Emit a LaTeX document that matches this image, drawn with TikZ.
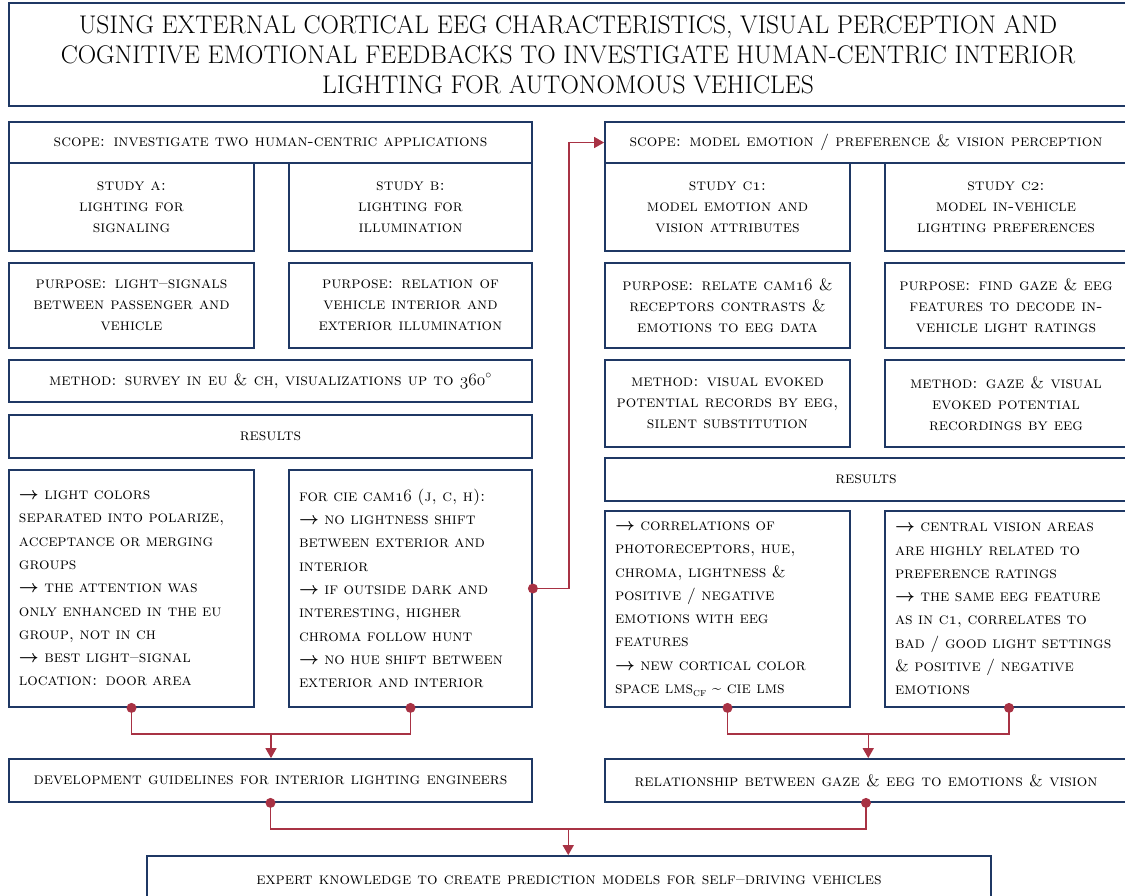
\documentclass[tikz,border=0pt]{standalone}
\usepackage{amsmath}
\usepackage{bm}
\usepackage{xcolor}
\usepackage{tikz}
\usetikzlibrary{
	arrows.meta,
	calc,
	positioning
}

\definecolor{boxblue}{RGB}{31,56,100}
\definecolor{linkred}{RGB}{168,50,68}
\newcommand{\resarrow}{$\bm{\rightarrow}$}
\newcommand{\osn}[1]{$\oldstylenums{#1}$}

\tikzset{
	box/.style={draw=boxblue, line width=1.8pt, fill=white, inner sep=0pt,
		align=center, font=\scshape\fontsize{16.5}{21}\selectfont},
	outbox/.style={box, align=left, inner xsep=10pt,
		font=\scshape\fontsize{16.5}{23.3}\selectfont},
	link/.style={draw=linkred, line width=1.5pt},
	tip/.style={-{Triangle[length=10pt,width=11pt]}}
}

\begin{document}
\begin{tikzpicture}[x=1pt, y=-1pt]
		\useasboundingbox (0,0) rectangle (1125,895);
		% title
		\node[box, minimum width=1118pt, minimum height=103pt,
			font=\fontsize{25.5}{30}\selectfont] (title) at (568,54.5)
			{USING EXTERNAL CORTICAL EEG CHARACTERISTICS, VISUAL PERCEPTION AND\\
			COGNITIVE EMOTIONAL FEEDBACKS TO INVESTIGATE HUMAN-CENTRIC INTERIOR\\
			LIGHTING FOR AUTONOMOUS VEHICLES};
		% left column: studies A and B
		\node[box, minimum width=523pt, minimum height=41pt] (scopeL) at (270.5,142.5)
			{scope: investigate two human-centric applications};
		\node[box, minimum width=245pt, minimum height=88pt] (studyA) at (131.5,207)
			{study a:\\ lighting for\\ signaling};
		\node[box, minimum width=243pt, minimum height=88pt] (studyB) at (410.5,207)
			{study b:\\ lighting for\\ illumination};
		\node[box, minimum width=245pt, minimum height=85pt] (purpA) at (131.5,305.5)
			{purpose: light--signals\\ between passenger and\\ vehicle};
		\node[box, minimum width=243pt, minimum height=85pt] (purpB) at (410.5,305.5)
			{purpose: relation of\\ vehicle interior and\\ exterior illumination};
		\node[box, minimum width=523pt, minimum height=42pt] (methL) at (270.5,381)
			{method: survey in eu \& ch, visualizations up to \osn{360}$^\circ$};
		\node[box, minimum width=523pt, minimum height=43pt] (resL) at (270.5,436.5)
			{results};
		\node[outbox, text width=225pt, minimum height=237pt] (outA) at (131.5,588.5)
			{\resarrow{} light colors\\ separated into polarize,\\ acceptance or merging\\ groups\\
			\resarrow{} the attention was\\ only enhanced in the eu\\ group, not in ch\\
			\resarrow{} best light--signal\\ location: door area};
		\node[outbox, text width=223pt, minimum height=237pt] (outB) at (410.5,588.5)
			{for cie cam\osn{16} (j, c, h):\\ \resarrow{} no lightness shift\\
			between exterior and\\ interior\\ \resarrow{} if outside dark and\\
			interesting, higher\\ chroma follow hunt\\ \resarrow{} no hue shift between\\
			exterior and interior};
		\node[box, minimum width=523pt, minimum height=43pt] (devel) at (270.5,780.5)
			{development guidelines for interior lighting engineers};
		% right column: studies C1 and C2
		\node[box, minimum width=522pt, minimum height=41pt] (scopeR) at (866,142.5)
			{scope: model emotion / preference \& vision perception};
		\node[box, minimum width=245pt, minimum height=88pt] (studyC1) at (727.5,207)
			{study c\osn{1}:\\ model emotion and\\ vision attributes};
		\node[box, minimum width=242pt, minimum height=88pt] (studyC2) at (1006,207)
			{study c\osn{2}:\\ model in-vehicle\\ lighting preferences};
		\node[box, minimum width=245pt, minimum height=85pt] (purpC1) at (727.5,305.5)
			{purpose: relate cam\osn{16} \&\\ receptors contrasts \&\\ emotions to eeg data};
		\node[box, minimum width=242pt, minimum height=85pt] (purpC2) at (1006,305.5)
			{purpose: find gaze \& eeg\\ features to decode in-\\ vehicle light ratings};
		\node[box, minimum width=245pt, minimum height=87pt] (methC1) at (727.5,403.5)
			{method: visual evoked\\ potential records by eeg,\\ silent substitution};
		\node[box, minimum width=242pt, minimum height=87pt] (methC2) at (1006,403.5)
			{method: gaze \& visual\\ evoked potential\\ recordings by eeg};
		\node[box, minimum width=522pt, minimum height=43pt] (resR) at (866,479.5)
			{results};
		\node[outbox, text width=225pt, minimum height=196pt] (outC1) at (727.5,609)
			{\resarrow{} correlations of\\ photoreceptors, hue,\\ chroma, lightness \&\\
			positive / negative\\ emotions with eeg\\ features\\ \resarrow{} new cortical color\\
			space lms\textsubscript{cf} \textasciitilde{} cie lms};
		\node[outbox, text width=228pt, minimum height=196pt] (outC2) at (1009,609)
			{\resarrow{} central vision areas\\ are highly related to\\ preference ratings\\
			\resarrow{} the same eeg feature\\ as in c\osn{1}, correlates to\\
			bad / good light settings\\ \& positive / negative\\ emotions};
		\node[box, minimum width=522pt, minimum height=43pt] (relat) at (866,780.5)
			{relationship between gaze \& eeg to emotions \& vision};
		% final box
		\node[box, minimum width=844pt, minimum height=48pt] (final) at (569,880)
			{expert knowledge to create prediction models for self--driving vehicles};
		% connectors
		\coordinate (jL) at ($(outA.south)!0.5!(outB.south)+(0,26)$);
		\coordinate (jR) at ($(outC1.south)!0.5!(outC2.south)+(0,26)$);
		\coordinate (jB) at ($(devel.south)!0.5!(relat.south)+(0,26)$);
		\draw[link] (outA.south) |- (jL) -| (outB.south);
		\draw[link] (outC1.south) |- (jR) -| (outC2.south);
		\draw[link] (devel.south) |- (jB) -| (relat.south);
		\draw[link, tip] (jL) -- (jL |- devel.north);
		\draw[link, tip] (jR) -- (jR |- relat.north);
		\draw[link, tip] (jB) -- (jB |- final.north);
		\draw[link, tip] (outB.east) -- ++(36,0) |- (scopeR.west);
		\foreach \p in {outA.south, outB.south, outC1.south, outC2.south, devel.south, relat.south, outB.east}
		\fill[linkred] (\p) circle (5pt);
	\end{tikzpicture}
\end{document}
